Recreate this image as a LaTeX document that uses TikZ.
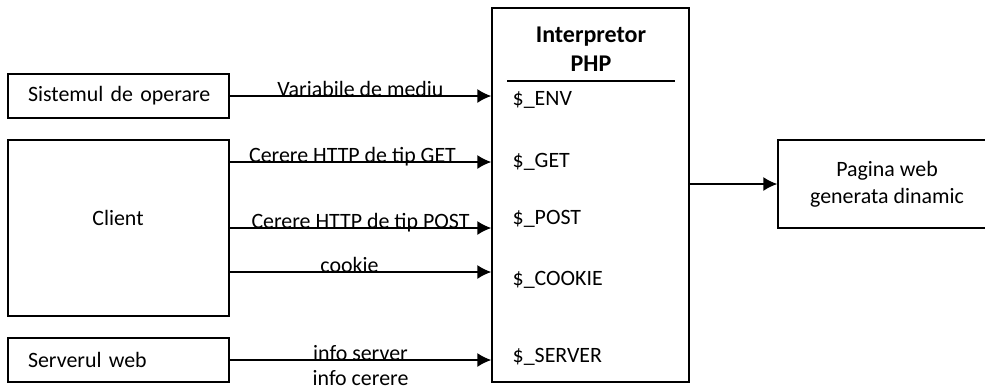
\documentclass[tikz,border=0pt,11pt]{standalone}
\usepackage{fontspec}
\setmainfont{Carlito}
\usetikzlibrary{arrows.meta}
\tikzset{>={Latex[length=7pt,width=7pt]}}
\tikzset{box/.style = {draw, inner sep=0pt},
         src/.style = {box, minimum width=110.5pt, text width=90.5pt, align=left},
         lbl/.style = {anchor=base, inner sep=0pt}}

\begin{document}
\begin{tikzpicture}[x=0.5pt, y=-0.5pt, line width=0.7pt]
\clip (0,0) rectangle (985,388);
% sources
\node[src, minimum height=22pt] (os) at (118.5,96) {\mbox{Sistemul de operare}};
\node[src, minimum height=88pt] (client) at (118.5,228) {};
\node (clienttxt) at (118,218) {Client};
\node[src, minimum height=22pt] (srv) at (118.5,360) {\mbox{Serverul web}};
% interpreter with its arrays
\node[box, minimum width=98.5pt, minimum height=187pt] (php) at (590.5,195) {};
\node[font=\fontsize{12}{14.5}\selectfont\bfseries, align=center] (title) at (591,49) {Interpretor\\PHP};
\draw (507,81) -- (675,81);
\node[anchor=base west, inner sep=0pt] (env) at (512,105) {\$\_ENV};
\node[anchor=base west, inner sep=0pt] (get) at (512,167) {\$\_GET};
\node[anchor=base west, inner sep=0pt] (post) at (512,224) {\$\_POST};
\node[anchor=base west, inner sep=0pt] (cookie) at (512,285) {\$\_COOKIE};
\node[anchor=base west, inner sep=0pt] (server) at (512,362) {\$\_SERVER};
% result
\node[box, minimum width=109pt, minimum height=44pt, align=center] (page) at (887,184) {Pagina web\\generata dinamic};
% arrows
\draw[->] (os.east) -- node[lbl] {Variabile de mediu} (os.east -| php.west);
\foreach \y/\dx/\txt in {162/-4/Cerere HTTP de tip GET, 228/0/Cerere HTTP de tip POST, 272/-5.5/cookie}
  \draw[->] (client.east |- 0,\y) -- node[lbl, xshift=\dx pt] {\txt} (php.west |- 0,\y);
\draw[->] (srv.east) -- node[lbl] {info server} node[lbl, yshift=-12.5pt] {info cerere} (srv.east -| php.west);
\draw[->] (php.east |- page.west) -- (page.west);
\end{tikzpicture}
\end{document}
